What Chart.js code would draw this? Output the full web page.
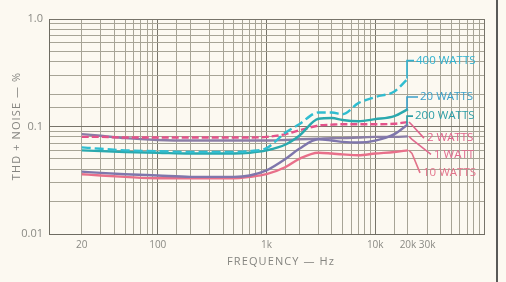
<!DOCTYPE html>
<html>
<head>
<meta charset="utf-8">
<script src="https://cdn.jsdelivr.net/npm/chart.js@4"></script>
<style>
  body { margin: 0; background: #fcf9f1; }
  #wrap { position: relative; width: 506px; height: 282px; }
  #edge { position: absolute; left: 496px; top: 0; width: 2px; height: 282px; background: #5a5a58; }
</style>
</head>
<body>
<div id="wrap">
  <canvas id="myChart"></canvas>
  <div id="edge"></div>
</div>
<script>
// frequencies (Hz) where curves were read
var freqs = [20, 30, 50, 100, 200, 500, 700, 1000, 1500, 2000, 3000, 4000, 5000, 7000, 10000, 15000, 20000]

// THD + noise (%) per output power
var w400 = [0.064, 0.062, 0.060, 0.059, 0.058, 0.058, 0.059, 0.063, 0.088, 0.105, 0.135, 0.135, 0.130, 0.165, 0.188, 0.212, 0.280]
var w20  = [0.060, 0.059, 0.058, 0.057, 0.056, 0.056, 0.057, 0.060, 0.068, 0.082, 0.118, 0.120, 0.115, 0.112, 0.117, 0.125, 0.145]
var w200 = [0.038, 0.037, 0.036, 0.035, 0.034, 0.034, 0.035, 0.039, 0.050, 0.062, 0.076, 0.074, 0.072, 0.071, 0.074, 0.085, 0.105]
var w2   = [0.080, 0.080, 0.079, 0.079, 0.079, 0.079, 0.079, 0.080, 0.085, 0.092, 0.102, 0.104, 0.105, 0.105, 0.105, 0.106, 0.110]
var w1   = [0.085, 0.082, 0.078, 0.075, 0.074, 0.074, 0.074, 0.074, 0.075, 0.076, 0.077, 0.078, 0.078, 0.079, 0.080, 0.080, 0.081]
var w10  = [0.036, 0.035, 0.034, 0.033, 0.033, 0.033, 0.034, 0.036, 0.042, 0.050, 0.057, 0.056, 0.055, 0.054, 0.056, 0.058, 0.060]

// curve labels at the right: text, where text starts (Hz), its middle (%)
var labelText = ['400 WATTS', '20 WATTS', '200 WATTS', '2 WATTS', '1 WATT', '10 WATTS']
var labelFreq = [23700, 25800, 23200, 29900, 34700, 27500]
var labelVal  = [0.41, 0.188, 0.125, 0.078, 0.055, 0.037]

var xTickLabels = { 20: '20', 100: '100', 1000: '1k', 10000: '10k', 20000: '20k', 30000: '30k' }
var yTickLabels = { 0.01: '0.01', 0.1: '0.1', 1: '1.0' }

function pts(vals) {
  return freqs.map(function (f, i) { return { x: f, y: vals[i] } })
}

var series = [
  { data: w400, color: '#30bdd0', dash: [9, 4], label: '#2fb1cf' },
  { data: w20,  color: '#2aa9ae', dash: [],     label: '#3a9fc9' },
  { data: w200, color: '#7f76ac', dash: [],     label: '#2c9ea6' },
  { data: w2,   color: '#e4528a', dash: [7, 3], label: '#e0648c' },
  { data: w1,   color: '#8a7ea6', dash: [],     label: '#e06a8e' },
  { data: w10,  color: '#e8708a', dash: [],     label: '#e2738a' }
]

var datasets = series.map(function (s, i) {
  return {
    label: labelText[i],
    data: pts(s.data),
    borderColor: s.color,
    borderDash: s.dash,
    borderWidth: 2.4,
    pointRadius: 0,
    cubicInterpolationMode: 'monotone',
    fill: false
  }
})

function isDecade(v) {
  var l = Math.log10(v)
  return Math.abs(l - Math.round(l)) < 1e-6
}

function spaced(t) {
  return t.split('').join('\u200a')
}

var labelPlugin = {
  id: 'curveLabels',
  afterDatasetsDraw: function (chart) {
    var ctx = chart.ctx
    var xs = chart.scales.x, ys = chart.scales.y
    ctx.save()
    ctx.font = '11.5px "Open Sans"'
    ctx.textBaseline = 'middle'
    for (var i = 0; i < labelText.length; i++) {
      var s = series[i]
      var endX = xs.getPixelForValue(freqs[freqs.length - 1])
      var endY = ys.getPixelForValue(s.data[s.data.length - 1])
      var tx = xs.getPixelForValue(labelFreq[i])
      var ty = ys.getPixelForValue(labelVal[i])
      ctx.strokeStyle = s.label
      ctx.lineWidth = 1.6
      ctx.beginPath()
      if (i < 3) {
        ctx.moveTo(endX - 1, endY)
        ctx.lineTo(endX - 1, ty)
        ctx.lineTo(tx - 2, ty)
      } else {
        ctx.moveTo(endX + 1, endY)
        ctx.lineTo(endX + 4, endY + 3)
        ctx.lineTo(tx - 3, ty)
      }
      ctx.stroke()
      ctx.fillStyle = s.label
      ctx.fillText(labelText[i], tx, ty)
    }
    // axis titles
    var ca = chart.chartArea
    ctx.fillStyle = '#858580'
    ctx.font = '11px "Open Sans"'
    ctx.textAlign = 'center'
    ctx.fillText(spaced('FREQUENCY — Hz'), (ca.left + ca.right) / 2 + 14, 262)
    ctx.translate(17, (ca.top + ca.bottom) / 2)
    ctx.rotate(-Math.PI / 2)
    ctx.fillText(spaced('THD + NOISE — %'), 0, 0)
    ctx.restore()
  }
}

var myChart = document.getElementById('myChart').getContext('2d')

var chart = new Chart(myChart, {
  type: 'line',
  data: { datasets: datasets },
  options: {
    responsive: true,
    maintainAspectRatio: false,
    animation: false,
    layout: { padding: { left: 0, top: 19, right: 22, bottom: 0 } },
    plugins: { legend: { display: false }, tooltip: { enabled: false } },
    scales: {
      x: {
        type: 'logarithmic',
        min: 10,
        max: 100000,
        afterFit: function (scale) { scale.height = 48 },
        border: { color: '#6e6c62', width: 1 },
        grid: {
          drawTicks: false,
          color: function (c) { return isDecade(c.tick.value) ? '#77746a' : '#a7a496' },
          lineWidth: 1
        },
        ticks: {
          autoSkip: false,
          maxRotation: 0,
          padding: 5,
          color: '#8a8a84',
          font: { family: 'Open Sans', size: 10 },
          callback: function (v) { return xTickLabels[v] || '' }
        }
      },
      y: {
        type: 'logarithmic',
        min: 0.01,
        max: 1,
        afterFit: function (scale) { scale.width = 49 },
        border: { color: '#6e6c62', width: 1 },
        grid: {
          drawTicks: false,
          color: function (c) { return isDecade(c.tick.value) ? '#77746a' : '#a7a496' },
          lineWidth: 1
        },
        ticks: {
          autoSkip: false,
          padding: 6,
          color: '#8a8a84',
          font: { family: 'Open Sans', size: 11 },
          callback: function (v) {
            var k = Math.round(v * 1000) / 1000
            return yTickLabels[k] || ''
          }
        }
      }
    }
  },
  plugins: [labelPlugin]
})
</script>
</body>
</html>
